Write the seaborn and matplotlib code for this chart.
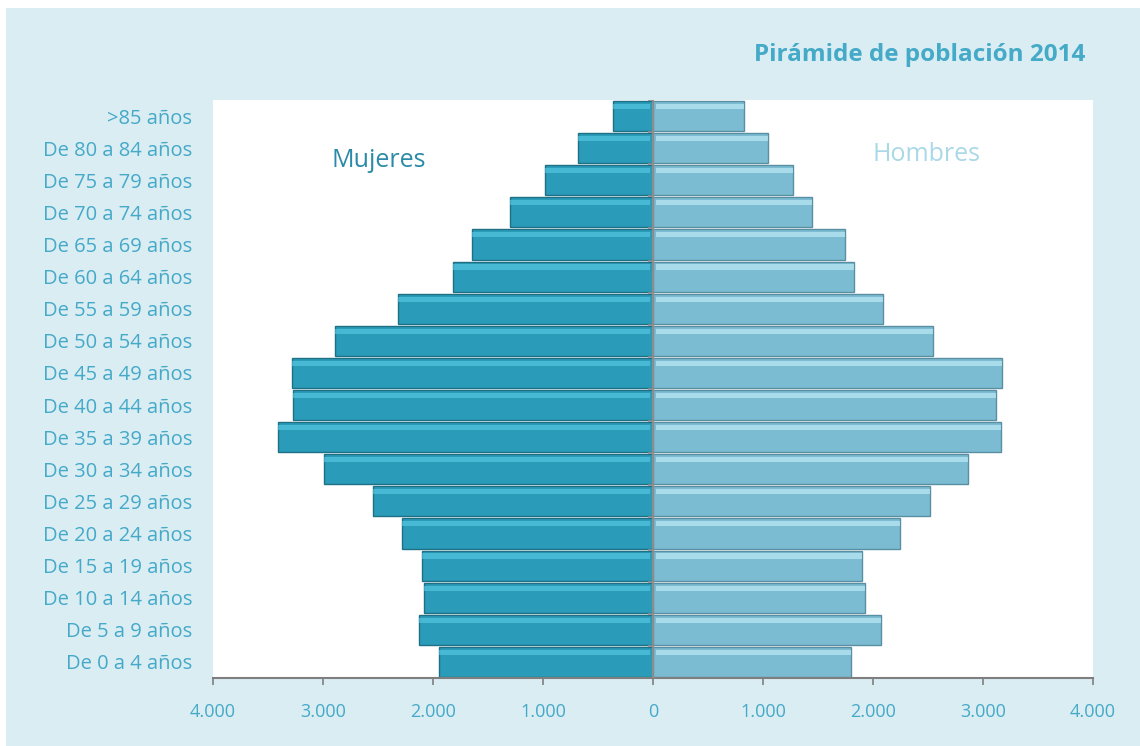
import numpy as np
import pandas as pd
import matplotlib
matplotlib.use("Agg")
import matplotlib.pyplot as plt
from matplotlib.patches import Rectangle
from matplotlib.ticker import FuncFormatter
import seaborn as sns

grupos = [">85 años", "De 80 a 84 años", "De 75 a 79 años", "De 70 a 74 años",
          "De 65 a 69 años", "De 60 a 64 años", "De 55 a 59 años", "De 50 a 54 años",
          "De 45 a 49 años", "De 40 a 44 años", "De 35 a 39 años", "De 30 a 34 años",
          "De 25 a 29 años", "De 20 a 24 años", "De 15 a 19 años", "De 10 a 14 años",
          "De 5 a 9 años", "De 0 a 4 años"]
mujeres = [361, 679, 985, 1300, 1648, 1818, 2315, 2891, 3279, 3270, 3409, 2991,
           2548, 2285, 2103, 2082, 2127, 1945]
hombres = [830, 1048, 1276, 1442, 1742, 1824, 2088, 2548, 3173, 3118, 3167, 2861,
           2515, 2245, 1903, 1930, 2073, 1803]
xticks = [-4000, -3000, -2000, -1000, 0, 1000, 2000, 3000, 4000]

df = pd.DataFrame({"grupo": grupos, "mujeres": [-v for v in mujeres], "hombres": hombres})

sns.set_style("white")
plt.rcParams["font.family"] = ["Open Sans", "DejaVu Sans"]

txt = "#45a9c8"
fem = "#2a9bb8"
mas = "#7cbcd2"

fig = plt.figure(figsize=(11.4, 7.46), dpi=100)
fig.patch.set_facecolor("white")
fig.patches.append(Rectangle((6 / 1140, 0), 1, 1 - 8 / 746, transform=fig.transFigure,
                             facecolor="#daedf3", edgecolor="none", zorder=-5))
ax = fig.add_axes([213 / 1140, 1 - 678 / 746, 880 / 1140, 578 / 746])
ax.set_zorder(2)
ax.set_facecolor("white")

sns.barplot(data=df, y="grupo", x="mujeres", orient="h", color=fem, width=0.94,
            saturation=1, edgecolor="#1f6f85", linewidth=1.0, ax=ax)
sns.barplot(data=df, y="grupo", x="hombres", orient="h", color=mas, width=0.94,
            saturation=1, edgecolor="#5a8fa3", linewidth=1.0, ax=ax)

# highlight strip on top of each bar for the bevel look
for i in range(len(grupos)):
    ax.barh(i - 0.3, df["mujeres"][i] + 25, height=0.16, left=-25, color="#5fd3ee",
            alpha=0.55, linewidth=0)
    ax.barh(i - 0.3, df["hombres"][i] - 25, height=0.16, left=25, color="#c6f3fc",
            alpha=0.6, linewidth=0)

ax.set_xlim(-4000, 4000)
ax.set_ylim(len(grupos) - 0.5, -0.5)
ax.set_xticks(xticks)
ax.xaxis.set_major_formatter(FuncFormatter(lambda v, p: f"{abs(int(v)):,}".replace(",", ".")))
ax.tick_params(axis="x", colors="#7f7f7f", labelcolor=txt, labelsize=13,
               length=5, width=1.2, direction="out", pad=13, bottom=True)
ax.tick_params(axis="y", length=0, labelcolor=txt, labelsize=14.5, pad=15)
ax.set_xlabel("")
ax.set_ylabel("")
for s in ["top", "right", "left"]:
    ax.spines[s].set_visible(False)
ax.spines["bottom"].set_color("#7f7f7f")
ax.spines["bottom"].set_linewidth(1.5)

ax.axvline(0, color="#8c8c8c", lw=1.5, zorder=5)
ax.hlines([i - 0.5 for i in range(len(grupos))], -45, 0, color="#8c8c8c", lw=1.2, zorder=5)

ax.text(-2490, 1.37, "Mujeres", color="#2a8aa8", fontsize=18, va="center", ha="center")
ax.text(2490, 1.21, "Hombres", color="#a9d8e6", fontsize=18, va="center", ha="center")

fig.text(1085 / 1140, 1 - 55 / 746, "Pirámide de población 2014", color=txt,
         fontsize=17.5, fontweight="bold", ha="right", va="center")

fig.savefig("out.png", dpi=100)
